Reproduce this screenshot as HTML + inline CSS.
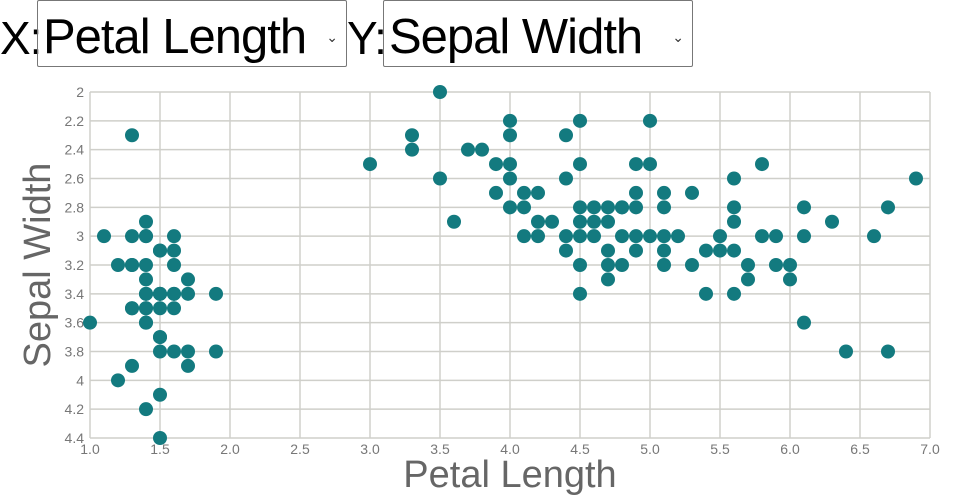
<!DOCTYPE html>
<html><head><style>
body{margin:0;width:960px;height:500px;background:#fff;overflow:hidden;font-family:"Liberation Sans",sans-serif;position:relative}
.l{position:absolute;top:10px;font-size:46px;color:#000;line-height:56px;letter-spacing:-1px}
.sel{position:absolute;top:0;height:67px;border:1px solid #777;border-radius:2px;box-sizing:border-box;font-size:49px;line-height:72px;padding-left:5px;color:#000;letter-spacing:-1px;white-space:nowrap}
.car{position:absolute;right:8px;top:0;font-size:14px;color:#333;letter-spacing:0}
</style></head><body>
<div class="l" style="left:0">X:</div>
<div class="sel" style="left:37px;width:310px">Petal Length<span class="car">&#8964;</span></div>
<div class="l" style="left:347px">Y:</div>
<div class="sel" style="left:383px;width:310px">Sepal Width<span class="car">&#8964;</span></div>
<svg id="s" width="960" height="500" style="position:absolute;left:0;top:0"></svg>
<script>
var s=document.getElementById('s'),h='';
function X(v){return 90+(v-1)*140}
function Y(v){return 92+(v-2)*144.17}
for(var i=0;i<=12;i++){var v=1+i*0.5,x=X(v);h+='<line x1="'+x+'" y1="92" x2="'+x+'" y2="438" stroke="#dcdcd8" stroke-width="2"/>';h+='<text x="'+x+'" y="454" text-anchor="middle" font-size="14" fill="#777" font-family="Liberation Sans">'+v.toFixed(1)+'</text>';}
for(var i=0;i<=12;i++){var v=2+i*0.2,y=Y(v);h+='<line x1="90" y1="'+y+'" x2="930" y2="'+y+'" stroke="#cfcfca" stroke-width="1.5"/>';h+='<text x="84" y="'+(y+5)+'" text-anchor="end" font-size="14" fill="#777" font-family="Liberation Sans">'+(+v.toFixed(1))+'</text>';}
var d=[[3.5,1.4],[3.0,1.4],[3.2,1.3],[3.1,1.5],[3.6,1.4],[3.9,1.7],[3.4,1.4],[3.4,1.5],[2.9,1.4],[3.1,1.5],[3.7,1.5],[3.4,1.6],[3.0,1.4],[3.0,1.1],[4.0,1.2],[4.4,1.5],[3.9,1.3],[3.5,1.4],[3.8,1.7],[3.8,1.5],[3.4,1.7],[3.7,1.5],[3.6,1.0],[3.3,1.7],[3.4,1.9],[3.0,1.6],[3.4,1.6],[3.5,1.5],[3.4,1.4],[3.2,1.6],[3.1,1.6],[3.4,1.5],[4.1,1.5],[4.2,1.4],[3.2,1.2],[3.5,1.3],[3.6,1.4],[3.0,1.3],[3.4,1.5],[3.5,1.3],[2.3,1.3],[3.2,1.3],[3.5,1.6],[3.8,1.9],[3.8,1.6],[3.2,1.4],[3.3,1.4],
[3.2,4.7],[3.2,4.5],[3.1,4.9],[2.3,4.0],[2.8,4.6],[2.8,4.5],[3.3,4.7],[2.4,3.3],[2.9,4.6],[2.7,3.9],[2.0,3.5],[3.0,4.2],[2.2,4.0],[2.9,4.7],[2.9,3.6],[3.1,4.4],[3.0,4.5],[2.7,4.1],[2.2,4.5],[2.5,3.9],[3.2,4.8],[2.8,4.0],[2.5,4.9],[2.8,4.7],[2.9,4.3],[3.0,4.4],[2.8,4.8],[3.0,5.0],[2.9,4.5],[2.6,3.5],[2.4,3.8],[2.4,3.7],[2.7,5.1],[3.4,4.5],[3.1,4.7],[2.3,4.4],[3.0,4.1],[2.5,4.0],[2.6,4.4],[3.0,4.6],[2.6,4.0],[2.3,3.3],[2.7,4.2],[2.9,4.2],[2.5,3.0],[2.8,4.1],
[3.3,6.0],[3.0,5.9],[2.9,5.6],[3.0,5.8],[3.0,6.6],[2.9,6.3],[2.5,5.8],[3.6,6.1],[3.2,5.1],[2.7,5.3],[3.0,5.5],[2.5,5.0],[2.8,5.1],[3.2,5.3],[3.8,6.7],[2.6,6.9],[2.2,5.0],[3.2,5.7],[2.8,4.9],[2.8,6.7],[2.7,4.9],[3.3,5.7],[3.2,6.0],[2.8,4.8],[3.0,4.9],[2.8,5.6],[2.8,6.1],[3.8,6.4],[2.6,5.6],[3.0,6.1],[3.4,5.6],[3.1,5.5],[3.0,4.8],[3.1,5.4],[3.1,5.6],[3.1,5.1],[3.2,5.9],[3.0,5.2],[3.4,5.4],[3.0,5.1],[2.5,4.5]];
d.forEach(function(p){h+='<circle cx="'+X(p[1])+'" cy="'+Y(p[0])+'" r="7" fill="#137a7f"/>';});
h+='<text x="510" y="487" text-anchor="middle" font-size="38" fill="#666" font-family="Liberation Sans">Petal Length</text>';
h+='<text transform="translate(50,265) rotate(-90)" text-anchor="middle" font-size="38" fill="#666" font-family="Liberation Sans">Sepal Width</text>';
s.innerHTML=h;
</script>
</body></html>
